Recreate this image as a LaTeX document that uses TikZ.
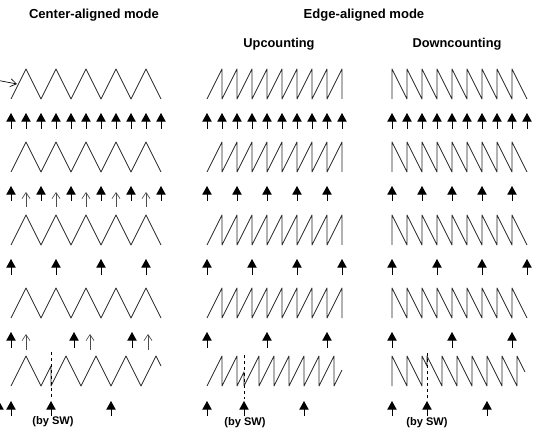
\documentclass[tikz,border=0pt]{standalone}
\usepackage{fontspec}
\setmainfont{Liberation Sans}
\usetikzlibrary{arrows.meta}

\begin{document}
\begin{tikzpicture}[x=0.75pt, y=-0.75pt,
  title/.style={font=\fontsize{9.8}{12}\selectfont\bfseries, inner sep=0pt},
  subtitle/.style={font=\fontsize{9.6}{11}\selectfont\bfseries, inner sep=0pt},
  note/.style={font=\fontsize{8.3}{10}\selectfont\bfseries, inner sep=0pt},
  wave/.style={line width=0.65pt, black!85, line join=round},
  evt/.style={line width=0.7pt, -{Triangle[width=7pt,length=6.5pt]}},
  upd/.style={line width=0.5pt, black!70, -{Straight Barb[width=6pt,length=4.5pt]}},
  swline/.style={line width=0.6pt, dash pattern=on 2.5pt off 2pt}
]
  \useasboundingbox (0,0) rectangle (540,435);
  \clip (0,0) rectangle (540,435);

  % titles
  \node[title] (center) at (94,15) {Center-aligned mode};
  \node[title] (edge) at (364,15) {Edge-aligned mode};
  \node[subtitle] (upcnt) at (279,44) {Upcounting};
  \node[subtitle] (downcnt) at (457,44) {Downcounting};

  % pointer to the counter
  \coordinate (ptr) at (-4,80);
  \coordinate (ptrend) at (17,84);
  \draw[upd, black] (ptr) -- (ptrend);

  % counters, rows 1-4
  \foreach \y in {69,142,215,288} {
    \draw[wave] (11,\y+30) \foreach \k in {1,...,5} { -- ++(15,-30) -- ++(15,30) };
    \draw[wave] (207,\y+30) \foreach \k in {1,...,9} { -- ++(15,-30) -- ++(0,30) };
    \draw[wave] (392,\y+30) \foreach \k in {1,...,9} { -- ++(0,-30) -- ++(15,30) };
  }

  % counters, row 5 (reset by SW)
  \draw[wave] (11,386) -- (26,356) -- (41,386) -- (51,366) -- (51,386)
    \foreach \k in {1,...,3} { -- ++(15,-30) -- ++(15,30) } -- (156,356) -- (161,366);
  \draw[wave] (207,386) -- (222,356) -- (222,386) -- (237,356) -- (237,386) -- (244,372) -- (244,386)
    \foreach \k in {1,...,6} { -- ++(15,-30) -- ++(0,30) } -- (342,370);
  \draw[wave] (392,386) -- (392,356) -- (407,386) -- (407,356) -- (422,386) -- (422,356)
    -- (427,366) -- (427,356) -- (442,386)
    \foreach \k in {1,...,5} { -- ++(0,-30) -- ++(15,30) } -- (517,356) -- (525,372);
  \draw[swline] (51,352) -- (51,399);
  \draw[swline] (244,355) -- (244,399);
  \draw[swline] (427,353) -- (427,399);

  % row 1 events
  \foreach \k in {0,...,10} \draw[evt] (11+15*\k,129) -- (11+15*\k,113);
  \foreach \k in {0,...,9} {
    \draw[evt] (207+15*\k,129) -- (207+15*\k,113);
    \draw[evt] (392+15*\k,129) -- (392+15*\k,113);
  }

  % row 2 events
  \foreach \k in {0,...,5} \draw[evt] (11+30*\k,201) -- (11+30*\k,186);
  \foreach \k in {0,...,4} {
    \draw[upd] (26+30*\k,207) -- (26+30*\k,192);
    \draw[evt] (207+30*\k,201) -- (207+30*\k,186);
    \draw[evt] (392+30*\k,201) -- (392+30*\k,186);
  }

  % row 3 events
  \foreach \k in {0,...,3} {
    \draw[evt] (11+45*\k,275) -- (11+45*\k,259);
    \draw[evt] (207+45*\k,275) -- (207+45*\k,259);
    \draw[evt] (392+45*\k,275) -- (392+45*\k,259);
  }

  % row 4 events
  \foreach \x in {11,74,132} \draw[evt] (\x,348) -- (\x,332);
  \foreach \x in {26,90,148} \draw[upd] (\x,350) -- (\x,334);
  \foreach \k in {0,...,2} {
    \draw[evt] (207+60*\k,348) -- (207+60*\k,332);
    \draw[evt] (392+60*\k,348) -- (392+60*\k,332);
  }

  % row 5 events
  \foreach \x in {-1,11,51,111,207,244,304,392,427,487} \draw[evt] (\x,416) -- (\x,401);
  \node[note] (sw1) at (53,422) {(by SW)};
  \node[note] (sw2) at (245,423) {(by SW)};
  \node[note] (sw3) at (427,423) {(by SW)};
\end{tikzpicture}
\end{document}
